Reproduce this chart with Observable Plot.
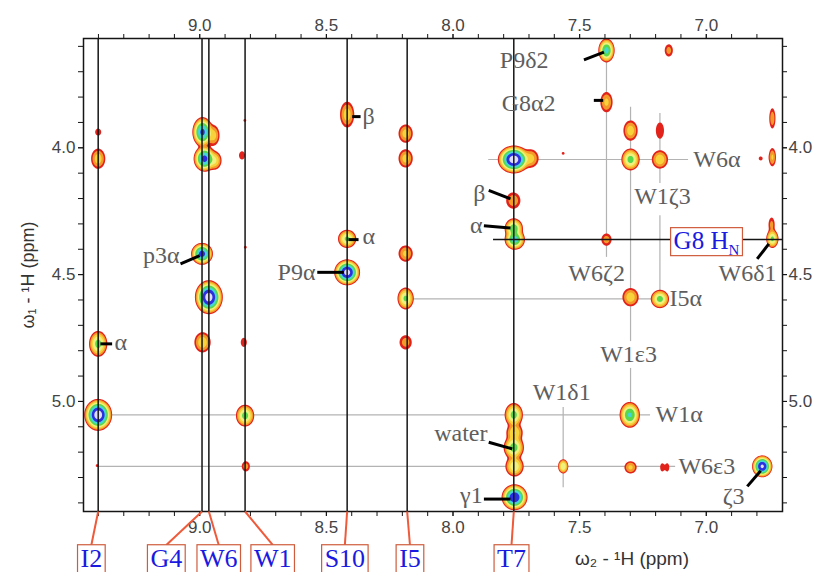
<!DOCTYPE html>
<html><head><meta charset="utf-8">
<script src="https://cdn.jsdelivr.net/npm/d3@7"></script>
<script src="https://cdn.jsdelivr.net/npm/@observablehq/plot@0.6"></script>
<style>body{margin:0;background:#fff;} #chart{width:819px;height:572px;overflow:hidden}</style>
</head><body><div id="chart"></div>
<script>
// ---------- axes ----------
const xDomain = [9.459, 6.699];   // ω2 (ppm), reversed
const yDomain = [5.434, 3.569];   // ω1 (ppm), increasing downward
const xMajor = [9.0, 8.5, 8.0, 7.5, 7.0];
const yMajor = [4.0, 4.5, 5.0];
const xMinor = [9.4, 9.3, 9.2, 9.1, 9.0, 8.9, 8.8, 8.7, 8.6, 8.5, 8.4, 8.3, 8.2, 8.1, 8.0, 7.9, 7.8, 7.7, 7.6, 7.5, 7.4, 7.3, 7.2, 7.1, 7.0, 6.9, 6.8];
const yMinor = [3.6, 3.7, 3.8, 3.9, 4.0, 4.1, 4.2, 4.3, 4.4, 4.5, 4.6, 4.7, 4.8, 4.9, 5.0, 5.1, 5.2, 5.3, 5.4];

// ---------- cross peaks ----------
const peakW2 = [9.401, 9.401, 9.401, 9.401, 9.405, 8.989, 8.981, 8.946, 8.942, 8.991, 8.964, 8.989,
  8.822, 8.833, 8.820, 8.826, 8.821, 8.818, 8.418, 8.418, 8.418, 8.187, 8.187, 8.187, 8.187, 8.187,
  7.760, 7.694, 7.762, 7.760, 7.756, 7.760, 7.757, 7.760, 7.757, 7.757, 7.565, 7.394, 7.148, 7.394,
  7.394, 7.299, 7.299, 7.183, 7.183, 7.183, 7.299, 6.739, 6.739, 6.785, 6.739, 6.742, 7.302, 7.565,
  7.299, 7.174, 7.154, 6.779];
const peakW1 = [3.938, 4.043, 4.773, 5.053, 5.253, 3.938, 4.043, 3.951, 4.050, 4.418, 4.589, 4.767,
  3.892, 4.030, 4.392, 4.767, 5.056, 5.256, 3.869, 4.359, 4.491, 3.944, 4.042, 4.417, 4.594, 4.767,
  4.046, 4.042, 4.208, 4.318, 4.362, 5.053, 5.123, 5.182, 5.256, 5.378, 4.022, 3.616, 3.616, 3.820,
  4.362, 3.932, 4.046, 3.932, 4.046, 4.596, 4.589, 3.884, 4.037, 4.042, 4.359, 4.303, 5.053, 5.256,
  5.260, 5.260, 5.260, 5.256];
// log2 intensity (number of contour levels)
const peakLevel = [0.5, 2.6, 4.5, 7.6, 0.15, 6.3, 6.4, 2.5, 3.2, 6.5, 7.5, 2.8,
  0.15, 0.8, 0.15, 0.7, 4.5, 1.5, 2.6, 4.3, 7.4, 2.5, 2.5, 2.3, 4.3, 1.6,
  7.6, 2.5, 1.8, 4.8, 5.5, 4.5, 3.0, 4.6, 3.8, 7.0, 0.15, 5.4, 1.5, 2.3,
  1.6, 2.6, 4.5, 1.0, 2.8, 4.5, 2.7, 1.8, 2.2, 0.2, 4.3, 1.4, 5.2, 4.0,
  2.3, 1.0, 1.0, 7.2];
// half-width of the lowest contour (ppm)
const peakHW2 = [0.012, 0.028, 0.036, 0.055, 0.006, 0.040, 0.043, 0.024, 0.028, 0.043, 0.055, 0.032,
  0.006, 0.012, 0.006, 0.012, 0.036, 0.016, 0.028, 0.036, 0.051, 0.028, 0.028, 0.028, 0.032, 0.024,
  0.063, 0.032, 0.028, 0.036, 0.040, 0.036, 0.032, 0.040, 0.036, 0.051, 0.006, 0.032, 0.016, 0.024,
  0.020, 0.028, 0.036, 0.016, 0.032, 0.036, 0.032, 0.012, 0.014, 0.008, 0.024, 0.012, 0.040, 0.020,
  0.024, 0.008, 0.008, 0.040];
const peakHW1 = [0.014, 0.040, 0.051, 0.063, 0.006, 0.059, 0.051, 0.040, 0.036, 0.043, 0.067, 0.040,
  0.006, 0.016, 0.006, 0.018, 0.043, 0.020, 0.051, 0.036, 0.051, 0.036, 0.036, 0.032, 0.043, 0.028,
  0.055, 0.036, 0.032, 0.040, 0.040, 0.047, 0.036, 0.047, 0.040, 0.051, 0.006, 0.047, 0.024, 0.040,
  0.024, 0.040, 0.043, 0.032, 0.036, 0.036, 0.036, 0.040, 0.036, 0.008, 0.036, 0.028, 0.051, 0.028,
  0.024, 0.016, 0.016, 0.043];

const contourLevels = [1, 2, 4, 8, 16, 32, 64, 128];
const contourColors = ["#e2231b", "#f49a2b", "#f7d23b", "#f0f07e", "#5ad84c", "#44d6d4", "#2b2fe0", "#dedcff"];

// ---------- assignment lines ----------
const residueName = ["I2", "G4", "W6", "W1", "S10", "I5", "T7"];
const residueW2 = [9.401, 8.991, 8.964, 8.821, 8.418, 8.181, 7.760];
const residueBoxW2 = [9.428, 9.132, 8.925, 8.712, 8.427, 8.170, 7.769];
const hnW1 = [4.362];
const hnFrom = [7.840];

const greyHW1 = [4.046, 4.596, 5.053, 5.256];
const greyHFrom = [7.859, 8.181, 9.401, 9.401];
const greyHTo = [7.070, 7.157, 7.220, 7.121];
const greyVW2 = [7.394, 7.299, 7.299, 7.183, 7.183, 7.565];
const greyVFrom = [3.616, 3.840, 4.870, 3.865, 4.268, 5.024];
const greyVTo = [4.432, 4.764, 5.053, 4.141, 4.596, 5.340];

// ---------- annotations ----------
const annoLabel = ["β", "α", "P9α", "p3α", "α", "P9δ2", "G8α2", "β", "α", "W6α", "W1ζ3", "W6ζ2", "W6δ1", "I5α", "W1ε3", "W1δ1", "W1α", "water", "W6ε3", "ζ3", "γ1"];
const annoW2 = [8.357, 8.357, 8.543, 9.080, 9.337, 7.623, 7.595, 7.872, 7.883, 7.051, 7.173, 7.433, 6.837, 7.145, 7.307, 7.571, 7.200, 7.864, 7.110, 6.892, 7.883];
const annoW1 = [3.877, 4.350, 4.490, 4.425, 4.766, 3.656, 3.825, 4.180, 4.304, 4.047, 4.192, 4.496, 4.496, 4.594, 4.815, 4.965, 5.052, 5.127, 5.257, 5.376, 5.372];
const annoAlign = ["start", "start", "end", "end", "start", "end", "end", "end", "end", "start", "middle", "middle", "middle", "start", "middle", "middle", "start", "end", "start", "middle", "end"];

const leaderFromW2 = [8.398, 8.413, 8.536, 9.076, 9.392, 7.483, 7.444, 7.859, 7.878, 6.799, 7.859, 7.878, 6.838];
const leaderFromW1 = [3.877, 4.362, 4.491, 4.458, 4.773, 3.653, 3.813, 4.168, 4.307, 4.438, 5.161, 5.385, 5.335];
const leaderToW2 = [8.365, 8.373, 8.431, 9.000, 9.346, 7.404, 7.407, 7.773, 7.773, 6.753, 7.766, 7.773, 6.785];
const leaderToW1 = [3.877, 4.362, 4.491, 4.425, 4.773, 3.623, 3.813, 4.201, 4.316, 4.379, 5.187, 5.385, 5.273];

const g8Label = ["G8 H"];
const g8W2 = [7.129];
const g8W1 = [4.366];

// ---------- field ----------
const LN2 = Math.LN2;
const amp = peakLevel.map(L => Math.pow(2, L));
const sx = peakHW2.map((w, i) => w / Math.sqrt(2 * peakLevel[i] * LN2));
const sy = peakHW1.map((w, i) => w / Math.sqrt(2 * peakLevel[i] * LN2));
function intensity(x, y) {
  let s = 0;
  for (let i = 0; i < amp.length; i++) {
    const dx = (x - peakW2[i]) / sx[i];
    if (dx > 7 || dx < -7) continue;
    const dy = (y - peakW1[i]) / sy[i];
    if (dy > 7 || dy < -7) continue;
    s += amp[i] * Math.exp(-0.5 * (dx * dx + dy * dy));
  }
  return s;
}

const idxAnno = d3.range(annoLabel.length);
const idxLead = d3.range(leaderFromW2.length);
const idxRes = d3.range(residueName.length);
const serif = "'Liberation Serif', 'Times New Roman', serif";
const annoFill = "#5e5e5e";
const connector = "#ee5a3a";

const chart = Plot.plot({
  width: 819, height: 572,
  marginTop: 38, marginRight: 37, marginBottom: 61, marginLeft: 83,
  style: {fontFamily: "'Liberation Sans', Arial, sans-serif", fontSize: "17px", background: "#fff", overflow: "visible"},
  x: {domain: xDomain},
  y: {domain: yDomain},
  color: {type: "threshold", domain: contourLevels.slice(1), range: contourColors},
  marks: [
    Plot.ruleY(greyHW1, {y: d => d, x1: (d, i) => greyHFrom[i], x2: (d, i) => greyHTo[i], stroke: "#b3b3b3", strokeWidth: 1.2}),
    Plot.ruleX(greyVW2, {x: d => d, y1: (d, i) => greyVFrom[i], y2: (d, i) => greyVTo[i], stroke: "#b3b3b3", strokeWidth: 1.2}),
    Plot.contour({value: intensity, x1: xDomain[0], x2: xDomain[1], y1: yDomain[0], y2: yDomain[1],
      thresholds: contourLevels, fill: "value", stroke: "none", pixelSize: 1}),
    Plot.ruleX(residueW2, {stroke: "#151515", strokeWidth: 1.5}),
    Plot.ruleY(hnW1, {y: d => d, x1: (d, i) => hnFrom[i], x2: xDomain[1], stroke: "#151515", strokeWidth: 1.5}),
    Plot.link(idxLead, {x1: i => leaderFromW2[i], y1: i => leaderFromW1[i], x2: i => leaderToW2[i], y2: i => leaderToW1[i], stroke: "#000", strokeWidth: 3}),
    Plot.frame({stroke: "#151515", strokeWidth: 1.5}),
    // axes
    Plot.axisX(xMinor, {anchor: "top", tickSize: 5, tickFormat: () => "", label: null, stroke: "#151515"}),
    Plot.axisX(xMajor, {anchor: "top", tickSize: 5, tickPadding: 3, tickFormat: d => d.toFixed(1), label: null, fill: "#444", stroke: "#151515", fontSize: 17}),
    Plot.axisX(xMinor, {anchor: "bottom", tickSize: 5, tickFormat: () => "", label: null, stroke: "#151515"}),
    Plot.axisX(xMajor, {anchor: "bottom", tickSize: 5, tickPadding: 4, tickFormat: d => d.toFixed(1), label: null, fill: "#444", stroke: "#151515", fontSize: 17}),
    Plot.axisY(yMinor, {anchor: "left", tickSize: 5, tickFormat: () => "", label: null, stroke: "#151515"}),
    Plot.axisY(yMajor, {anchor: "left", tickSize: 5, tickPadding: 3, tickFormat: d => d.toFixed(1), label: null, fill: "#444", stroke: "#151515", fontSize: 17}),
    Plot.axisY(yMinor, {anchor: "right", tickSize: 4, tickFormat: () => "", label: null, stroke: "#151515"}),
    Plot.axisY(yMajor, {anchor: "right", tickSize: 4, tickPadding: 2, tickFormat: d => d.toFixed(1), label: null, fill: "#444", stroke: "#151515", fontSize: 17}),
    Plot.text(["ω₁ - ¹H (ppm)"], {frameAnchor: "left", dx: -55, rotate: -90, textAnchor: "middle", lineAnchor: "middle", fontSize: 18, fill: "#333"}),
    Plot.text(["ω₂ - ¹H (ppm)"], {frameAnchor: "bottom", dx: 199, dy: 47, textAnchor: "middle", lineAnchor: "middle", fontSize: 19, fill: "#333"}),
    // annotations
    ...["start", "middle", "end"].map(a => Plot.text(idxAnno, {filter: i => annoAlign[i] === a, x: i => annoW2[i], y: i => annoW1[i], text: i => annoLabel[i],
      textAnchor: a, lineAnchor: "middle", fontFamily: serif, fontSize: 24, fill: annoFill})),
    Plot.text(g8Label, {x: (d, i) => g8W2[i], y: (d, i) => g8W1[i], text: d => d, textAnchor: "start", lineAnchor: "middle",
      fontFamily: serif, fontSize: 25, fill: "#1a1ae0"}),
    // residue labels below the spectrum
    Plot.link(idxRes, {x1: i => residueW2[i], y1: yDomain[0], x2: i => residueBoxW2[i], y2: 5.566, stroke: connector, strokeWidth: 2}),
    Plot.text(idxRes, {x: i => residueBoxW2[i], y: 5.579, text: i => residueName[i], textAnchor: "middle", lineAnchor: "top",
      fontFamily: serif, fontSize: 26, fill: "#1a1ae0"})
  ]
});
document.getElementById("chart").appendChild(chart);

const NS = "http://www.w3.org/2000/svg";
const allTexts = Array.from(chart.querySelectorAll("text"));
const g8Texts = allTexts.filter(t => t.textContent === g8Label[0]);
const resTexts = allTexts.filter(t => residueName.includes(t.textContent));
g8Texts.forEach(t => {
  const ts = document.createElementNS(NS, "tspan");
  ts.setAttribute("font-size", "15");
  ts.setAttribute("dy", "6");
  ts.textContent = "N";
  t.appendChild(ts);
});
function boxify(texts, padX, padTop, padBottom) {
  texts.forEach(t => {
    const b = t.getBBox();
    const r = document.createElementNS(NS, "rect");
    r.setAttribute("x", b.x - padX);
    r.setAttribute("y", b.y - padTop);
    r.setAttribute("width", b.width + 2 * padX);
    r.setAttribute("height", b.height + padTop + padBottom);
    r.setAttribute("fill", "#fff");
    r.setAttribute("stroke", "#cf5c3c");
    r.setAttribute("stroke-width", "1.2");
    const tr = t.getAttribute("transform");
    if (tr) r.setAttribute("transform", tr);
    t.parentNode.insertBefore(r, t);
  });
}
boxify(g8Texts, 3, -1, -2);
boxify(resTexts, 3, -1, 10);
</script>
</body></html>
